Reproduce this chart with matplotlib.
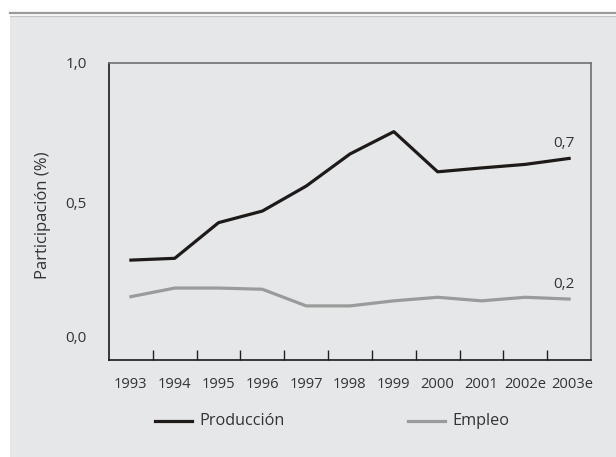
import matplotlib
matplotlib.use("Agg")
import matplotlib.pyplot as plt
from matplotlib.lines import Line2D
from matplotlib.patches import Rectangle
from matplotlib.transforms import ScaledTranslation

plt.rcParams['font.family'] = ['Open Sans', 'DejaVu Sans']

years = ["1993", "1994", "1995", "1996", "1997", "1998", "1999", "2000", "2001", "2002e", "2003e"]
produccion = [0.336, 0.342, 0.462, 0.501, 0.585, 0.693, 0.768, 0.633, 0.646, 0.658, 0.678]
empleo = [0.213, 0.242, 0.242, 0.238, 0.182, 0.182, 0.199, 0.211, 0.199, 0.211, 0.205]
yticks = [0.0, 0.5, 1.0]
ytick_labels = ["0,0", "0,5", "1,0"]
end_labels = ["0,7", "0,2"]
series_names = ["Producción", "Empleo"]

W, H = 616, 457
fig = plt.figure(figsize=(W / 100, H / 100), dpi=100, facecolor="white")
bg = "#e6e7e9"
fig.patches.append(Rectangle((10 / W, 0), 1, (H - 17) / H, transform=fig.transFigure,
                             facecolor=bg, edgecolor="none", zorder=-10))
fig.add_artist(Line2D([10 / W, 1], [(H - 13) / H] * 2, color="#9a9a9a", lw=1.6))
fig.add_artist(Line2D([10 / W, 1], [(H - 15.8) / H] * 2, color="#c4c4c4", lw=0.9))

ax = fig.add_axes([109 / W, (H - 360) / H, (591 - 109) / W, (360 - 62.7) / H])
ax.set_facecolor(bg)
x = list(range(len(years)))
colors = ["#1e1a1a", "#9b9b9b"]
l1, = ax.plot(x, produccion, color=colors[0], lw=2.3, label=series_names[0])
l2, = ax.plot(x, empleo, color=colors[1], lw=2.3, label=series_names[1])
ax.set_xlim(-0.5, len(years) - 0.5)
ax.set_ylim(0, 1.0)

txtc = "#333333"
ax.set_xticks(x)
ax.set_xticklabels(years, fontsize=10.6, color=txtc)
ax.tick_params(axis="x", which="major", length=0, pad=12)
ax.set_xticks([i + 0.5 for i in range(len(years) - 1)], minor=True)
ax.tick_params(axis="x", which="minor", direction="in", length=7, width=1, color="#222222")
xlabs = ax.get_xticklabels()
xlabs[-1].set_transform(xlabs[-1].get_transform() + ScaledTranslation(3 / 100, 0, fig.dpi_scale_trans))

ax.set_yticks(yticks)
ax.set_yticklabels(ytick_labels, fontsize=11, color=txtc)
ax.tick_params(axis="y", which="major", length=0, pad=16)
ax.set_yticks([0.5], minor=True)
ax.tick_params(axis="y", which="minor", direction="in", length=7, width=1, color="#444444")
offsets_px = [23, 9, 0]
for lab, dy in zip(ax.get_yticklabels(), offsets_px):
    lab.set_transform(lab.get_transform() + ScaledTranslation(0, dy / 100, fig.dpi_scale_trans))

ax.set_ylabel("Participación (%)", fontsize=12, color=txtc)
ax.yaxis.set_label_coords((51 - 109) / (591 - 109), (360 - 215.5) / (360 - 62.7))

for sp in ["left", "bottom"]:
    ax.spines[sp].set_color("#1a1a1a")
    ax.spines[sp].set_linewidth(1.2)
for sp in ["top", "right"]:
    ax.spines[sp].set_color("#707070")
    ax.spines[sp].set_linewidth(1.2)

ax.annotate(end_labels[0], (x[-1], produccion[-1]), xytext=(-4, 5), textcoords="offset points",
            ha="center", va="bottom", fontsize=11, color=txtc)
ax.annotate(end_labels[1], (x[-1], empleo[-1]), xytext=(-4, 5), textcoords="offset points",
            ha="center", va="bottom", fontsize=11, color=txtc)

# legend (manual placement)
leg_y = (H - 420.7) / H
for (x0, x1, tx), c, name in zip([(155, 192, 199), (408, 445, 452.5)], colors, series_names):
    fig.add_artist(Line2D([x0 / W, x1 / W], [leg_y, leg_y], color=c, lw=2.3))
    fig.text(tx / W, leg_y, name, fontsize=11.7, color=txtc, ha="left", va="center")

fig.savefig("out.png", dpi=100, facecolor="white")
